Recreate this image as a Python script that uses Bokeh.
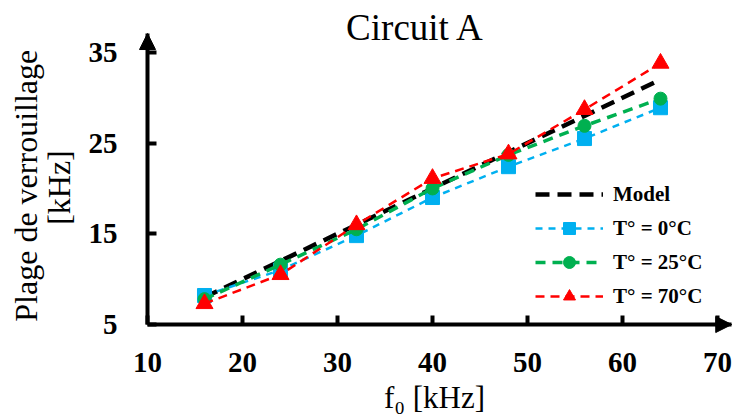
from bokeh.plotting import figure
from bokeh.models import Range1d, FixedTicker, Label, Arrow, NormalHead
from bokeh.embed import file_html
from bokeh.resources import INLINE

f0 = [16, 24, 32, 40, 48, 56, 64]
model = [8.0, 12.0, 16.0, 20.0, 24.0, 28.0, 32.0]
t0 = [8.2, 11.0, 14.8, 19.0, 22.4, 25.5, 28.9]
t25 = [7.8, 11.6, 15.5, 20.0, 23.7, 26.9, 29.9]
t70 = [7.3, 10.5, 16.0, 21.1, 23.8, 28.7, 33.8]
x_ticks = [10, 20, 30, 40, 50, 60, 70]
y_ticks = [5, 15, 25, 35]

FONT = "Liberation Serif"
LFONT = "'Liberation Serif', serif"
X0, XMAX = 10, 71.5
Y0, YMAX = 5, 37.08

p = figure(width=732, height=416, output_backend="svg", toolbar_location=None,
           x_range=Range1d(-5.474, 71.58), y_range=Range1d(-5.14, 40.72),
           min_border=0)
p.outline_line_color = None
p.grid.visible = False
p.background_fill_color = "white"

p.xaxis.fixed_location = Y0
p.yaxis.fixed_location = X0
p.xaxis.bounds = (X0, XMAX)
p.yaxis.bounds = (Y0, YMAX)

for ax in (p.xaxis[0], p.yaxis[0]):
    ax.axis_line_width = 4
    ax.axis_line_color = "black"
    ax.major_tick_line_width = 4
    ax.major_tick_line_color = "black"
    ax.major_tick_in = 9
    ax.major_tick_out = 0
    ax.minor_tick_line_color = None
    ax.major_label_text_font = FONT
    ax.major_label_text_font_style = "bold"
    ax.major_label_text_font_size = "29px"
    ax.major_label_text_color = "black"
p.xaxis[0].ticker = FixedTicker(ticks=x_ticks)
p.yaxis[0].ticker = FixedTicker(ticks=y_ticks)
p.xaxis[0].major_label_standoff = 28
p.yaxis[0].major_label_standoff = 30

p.line(f0, model, line_color="black", line_width=4.5, line_dash="14 8", legend_label="Model")

p.line(f0, t0, line_color="#00B0F0", line_width=2.5, line_dash="7 6", legend_label="T° = 0°C")
p.scatter(f0, t0, marker="square", size=14, fill_color="#00B0F0", line_color="#00B0F0", legend_label="T° = 0°C")

p.line(f0, t25, line_color="#00B050", line_width=3.5, line_dash="10 7", legend_label="T° = 25°C")
p.scatter(f0, t25, marker="circle", size=13, fill_color="#00B050", line_color="#00B050", legend_label="T° = 25°C")

p.line(f0, t70, line_color="#FF0000", line_width=2.5, line_dash="9 6", legend_label="T° = 70°C")
p.scatter(f0, t70, marker="triangle", size=17, fill_color="#FF0000", line_color="#FF0000", legend_label="T° = 70°C")

lg = p.legend[0]
lg.location = (535, 103)
lg.padding = 0
lg.margin = 0
lg.spacing = 0
lg.border_line_alpha = 0
lg.background_fill_alpha = 0
lg.glyph_width = 68
lg.glyph_height = 30
lg.label_height = 34
lg.label_standoff = 10
lg.label_text_font = FONT
lg.label_text_font_style = "bold"
lg.label_text_font_size = "21px"
lg.label_text_color = "black"

# axis arrow heads
p.add_layout(Arrow(end=NormalHead(size=16, fill_color="black", line_color="black"),
                   x_start=69.8, y_start=Y0, x_end=XMAX, y_end=Y0, line_width=4, line_color="black"))
p.add_layout(Arrow(end=NormalHead(size=16, fill_color="black", line_color="black"),
                   x_start=X0, y_start=35.5, x_end=X0, y_end=YMAX, line_width=4, line_color="black"))

# title and axis labels
p.add_layout(Label(x=38.21, y=37.75, text="Circuit A", text_font=LFONT, text_font_size="37px",
                   text_align="center", text_baseline="middle", text_color="black"))
p.add_layout(Label(x=40.21, y=-3.0, text="f₀ [kHz]", text_font=LFONT, text_font_size="31px",
                   text_align="center", text_baseline="middle", text_color="black"))
p.add_layout(Label(x=-2.74, y=20.3, text="Plage de verrouillage", text_font=LFONT, text_font_size="32px",
                   text_align="center", text_baseline="middle", angle=90, angle_units="deg", text_color="black"))
p.add_layout(Label(x=0.68, y=20.1, text="[kHz]", text_font=LFONT, text_font_size="32px",
                   text_align="center", text_baseline="middle", angle=90, angle_units="deg", text_color="black"))

open("out.html", "w").write(file_html(p, INLINE))
